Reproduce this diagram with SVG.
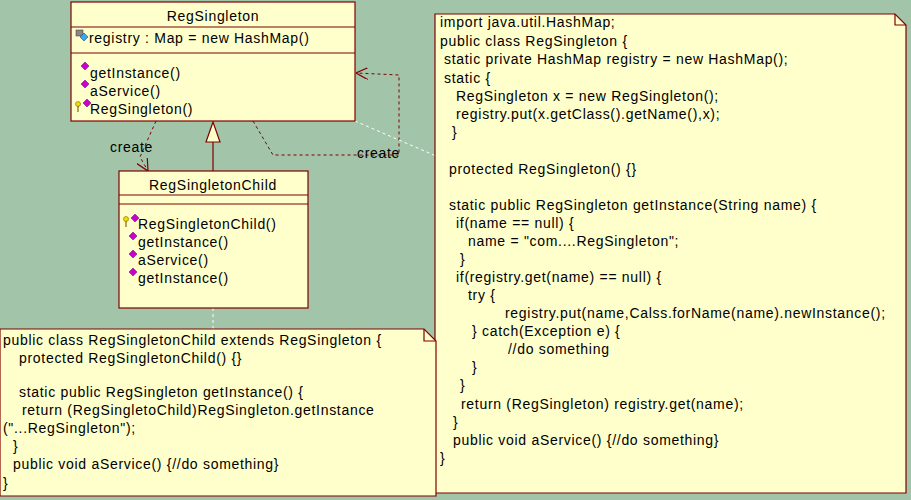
<svg xmlns="http://www.w3.org/2000/svg" width="911" height="500" viewBox="0 0 911 500">
<defs>
<style>
text{font-family:"Liberation Sans",Arial,sans-serif;font-size:14px;letter-spacing:0.7px;fill:#000}
.box{fill:#FFFFCC;stroke:#800000;stroke-width:1.2}
.ln{stroke:#800000;stroke-width:1.2;fill:none}
.dep{stroke:#800000;stroke-width:1;fill:none;stroke-dasharray:3,3}
.anc{stroke:#fff;stroke-width:1;fill:none;stroke-dasharray:3,3}
.dia{fill:#CC00CC;stroke:#660066;stroke-width:0.5}
</style>
<marker id="open" viewBox="0 0 10 10" refX="10" refY="5" markerWidth="12" markerHeight="12" markerUnits="userSpaceOnUse" orient="auto"><path d="M0,0 L10,5 L0,10" fill="none" stroke="#800000" stroke-width="1"/></marker>
</defs>
<rect width="911" height="500" fill="#A2C4A9"/>
<g id="connectors">
<path class="dep" d="M156,121 L140,157 L148,171" marker-end="url(#open)"/>
<text x="110" y="152">create</text>
<path class="dep" d="M253,121 L273,155 L399,155 L399,75 L356,73" marker-end="url(#open)"/>
<text x="357" y="158">create</text>
<path class="ln" d="M213,171 L213,142"/>
<polygon points="213,122 206,142 220,142" fill="#FFFFCC" stroke="#800000" stroke-width="1.2"/>
<path class="anc" d="M355,121 L436,156"/>
<path class="anc" d="M213,308 L213,329"/>
</g>
<g id="RegSingleton">
<rect class="box" x="71" y="2" width="284" height="119"/>
<path class="ln" d="M71,27 H355 M71,53 H355"/>
<text x="213" y="21" text-anchor="middle">RegSingleton</text>
<rect x="76" y="30" width="7" height="6" fill="#888" stroke="#333" stroke-width="0.5"/>
<polygon points="84,33 88,37 84,41 80,37" fill="#33AAEE" stroke="#225" stroke-width="0.5"/>
<text x="89" y="43">registry : Map = new HashMap()</text>
<polygon class="dia" points="85,62 89,66 85,70 81,66"/>
<text x="90" y="78">getInstance()</text>
<polygon class="dia" points="85,80 89,84 85,88 81,84"/>
<text x="90" y="96">aService()</text>
<polygon class="dia" points="87,99 91,103 87,107 83,103"/>
<circle cx="78" cy="104" r="2.5" fill="#EEDD00" stroke="#886600" stroke-width="0.6"/>
<path d="M78,106 V112" stroke="#886600" stroke-width="1.2"/>
<text x="90" y="114">RegSingleton()</text>
</g>
<g id="RegSingletonChild">
<rect class="box" x="119" y="171" width="189" height="137"/>
<path class="ln" d="M119,195 H308 M119,204 H308"/>
<text x="213" y="190" text-anchor="middle">RegSingletonChild</text>
<polygon class="dia" points="135,214 139,218 135,222 131,218"/>
<circle cx="126" cy="219" r="2.5" fill="#EEDD00" stroke="#886600" stroke-width="0.6"/>
<path d="M126,221 V227" stroke="#886600" stroke-width="1.2"/>
<text x="138" y="229">RegSingletonChild()</text>
<polygon class="dia" points="133,232 137,236 133,240 129,236"/>
<text x="138" y="247">getInstance()</text>
<polygon class="dia" points="133,250 137,254 133,258 129,254"/>
<text x="138" y="265">aService()</text>
<polygon class="dia" points="133,268 137,272 133,276 129,272"/>
<text x="138" y="283">getInstance()</text>
</g>
<g id="note-parent">
<path class="box" d="M435,14 H895 L906,25 V493 H435 Z"/>
<path class="ln" d="M895,14 V25 H906"/>
<text x="440" y="27">import java.util.HashMap;</text>
<text x="440" y="46">public class RegSingleton {</text>
<text x="444" y="64">static private HashMap registry = new HashMap();</text>
<text x="444" y="83">static {</text>
<text x="456" y="101">RegSingleton x = new RegSingleton();</text>
<text x="456" y="119">registry.put(x.getClass().getName(),x);</text>
<text x="452" y="137">}</text>
<text x="449" y="174">protected RegSingleton() {}</text>
<text x="449" y="210">static public RegSingleton getInstance(String name) {</text>
<text x="456" y="228">if(name == null) {</text>
<text x="468" y="246">name = "com....RegSingleton";</text>
<text x="460" y="264">}</text>
<text x="456" y="282">if(registry.get(name) == null) {</text>
<text x="468" y="300">try {</text>
<text x="505" y="318">registry.put(name,Calss.forName(name).newInstance();</text>
<text x="472" y="336">} catch(Exception e) {</text>
<text x="508" y="354">//do something</text>
<text x="472" y="372">}</text>
<text x="460" y="390">}</text>
<text x="461" y="409">return (RegSingleton) registry.get(name);</text>
<text x="453" y="427">}</text>
<text x="453" y="445">public void aService() {//do something}</text>
<text x="440" y="463">}</text>
</g>
<g id="note-child">
<path class="box" d="M0,329 H424 L436,341 V496 H0 Z"/>
<path class="ln" d="M424,329 V341 H436"/>
<text x="3" y="345">public class RegSingletonChild extends RegSingleton {</text>
<text x="19" y="363">protected RegSingletonChild() {}</text>
<text x="19" y="397">static public RegSingleton getInstance() {</text>
<text x="22" y="415">return (RegSingletoChild)RegSingleton.getInstance</text>
<text x="3" y="433">("...RegSingleton");</text>
<text x="13" y="451">}</text>
<text x="13" y="469">public void aService() {//do something}</text>
<text x="3" y="488">}</text>
</g>
</svg>
